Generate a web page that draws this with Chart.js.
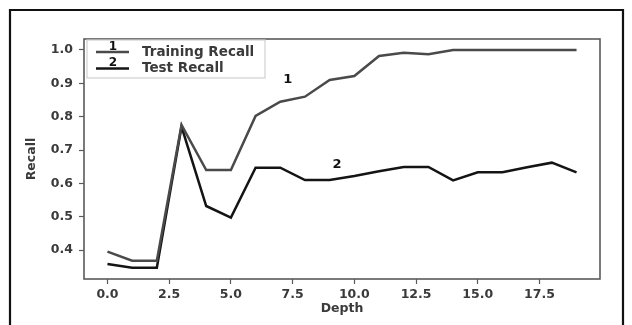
<!DOCTYPE html>
<html>
<head>
<meta charset="utf-8">
<script src="https://cdn.jsdelivr.net/npm/chart.js@4/dist/chart.umd.min.js"></script>
<style>
  html, body { margin: 0; padding: 0; background: #fff; }
  #wrap { width: 632px; height: 325px; }
  canvas { filter: blur(0.45px); }
</style>
</head>
<body>
<div id="wrap"><canvas id="c" width="632" height="325"></canvas></div>
<script>
// Recall against tree depth
const depths = [0, 1, 2, 3, 4, 5, 6, 7, 8, 9, 10, 11, 12, 13, 14, 15, 16, 17, 18, 19];
const trainingRecall = [0.395, 0.368, 0.368, 0.775, 0.640, 0.640, 0.802, 0.845, 0.860, 0.910, 0.922, 0.982, 0.992, 0.987, 1.0, 1.0, 1.0, 1.0, 1.0, 1.0];
const testRecall = [0.358, 0.347, 0.347, 0.770, 0.532, 0.497, 0.647, 0.647, 0.610, 0.610, 0.622, 0.636, 0.649, 0.649, 0.609, 0.633, 0.633, 0.648, 0.662, 0.633];
const seriesNames = ['Training Recall', 'Test Recall'];
const seriesMarks = ['1', '2'];
const xTickValues = [0, 2.5, 5, 7.5, 10, 12.5, 15, 17.5];
const yTickValues = [0.4, 0.5, 0.6, 0.7, 0.8, 0.9, 1.0];

const lineColors = ['#4a4a4a', '#141414'];
const textColor = '#3a3a3a';
const fontFamily = '"DejaVu Sans", sans-serif';

const toPoints = vals => depths.map((d, i) => ({ x: d, y: vals[i] }));

// plot frame, outer border, curve numbers and legend
const decorations = {
  id: 'decorations',
  afterDraw(chart) {
    const { ctx, chartArea: a, scales } = chart;
    ctx.save();
    // axes box
    ctx.strokeStyle = '#5a5a5a';
    ctx.lineWidth = 1.6;
    ctx.strokeRect(a.left, a.top, a.right - a.left, a.bottom - a.top);

    // outer frame (open at the bottom)
    ctx.strokeStyle = '#111';
    ctx.lineWidth = 2.2;
    ctx.beginPath();
    ctx.moveTo(10, 325);
    ctx.lineTo(10, 10);
    ctx.lineTo(623, 10);
    ctx.lineTo(623, 325);
    ctx.stroke();

    // numbers beside the curves
    ctx.fillStyle = '#111';
    ctx.font = 'bold 13px ' + fontFamily;
    ctx.textAlign = 'center';
    ctx.textBaseline = 'middle';
    ctx.fillText(seriesMarks[0], scales.x.getPixelForValue(7.3), scales.y.getPixelForValue(0.912));
    ctx.fillText(seriesMarks[1], scales.x.getPixelForValue(9.3), scales.y.getPixelForValue(0.657));

    // legend
    const bx = a.left + 3, by = a.top + 1, bw = 178, bh = 38;
    ctx.fillStyle = 'rgba(255,255,255,0.85)';
    ctx.fillRect(bx, by, bw, bh);
    ctx.strokeStyle = '#d0d0d0';
    ctx.lineWidth = 1.2;
    ctx.strokeRect(bx, by, bw, bh);
    const rows = [by + 12, by + 28.5];
    seriesNames.forEach((name, i) => {
      const y = rows[i];
      ctx.strokeStyle = lineColors[i];
      ctx.lineWidth = 2.4;
      ctx.beginPath();
      ctx.moveTo(bx + 9, y);
      ctx.lineTo(bx + 42, y);
      ctx.stroke();
      ctx.fillStyle = '#111';
      ctx.font = 'bold 12px ' + fontFamily;
      ctx.textAlign = 'center';
      ctx.textBaseline = 'alphabetic';
      ctx.fillText(seriesMarks[i], bx + 26, y - 2.5);
      ctx.fillStyle = textColor;
      ctx.textAlign = 'left';
      ctx.textBaseline = 'middle';
      ctx.font = 'bold 13.5px ' + fontFamily;
      ctx.fillText(name, bx + 55, y);
    });
    ctx.restore();
  }
};

new Chart(document.getElementById('c'), {
  type: 'line',
  data: {
    datasets: [
      { label: seriesNames[0], data: toPoints(trainingRecall), borderColor: lineColors[0], borderWidth: 2.5, pointRadius: 0, tension: 0, fill: false },
      { label: seriesNames[1], data: toPoints(testRecall), borderColor: lineColors[1], borderWidth: 2.5, pointRadius: 0, tension: 0, fill: false }
    ]
  },
  options: {
    responsive: false,
    animation: false,
    devicePixelRatio: 1,
    layout: { padding: { left: 0, right: 32, top: 39, bottom: 0 } },
    plugins: { legend: { display: false }, tooltip: { enabled: false } },
    scales: {
      x: {
        type: 'linear',
        min: -0.95,
        max: 19.95,
        afterBuildTicks: s => { s.ticks = xTickValues.map(v => ({ value: v })); },
        afterFit: s => { s.height = 46; },
        grid: { drawOnChartArea: false, drawTicks: true, tickLength: 5, color: '#5a5a5a', tickWidth: 1.2 },
        border: { display: false },
        ticks: {
          color: textColor, padding: 3,
          font: { family: fontFamily, size: 12.5, weight: 'bold' },
          callback: v => Number(v).toFixed(1)
        },
        title: {
          display: true, text: 'Depth', color: textColor,
          font: { family: fontFamily, size: 12.5, weight: 'bold' },
          padding: { top: 0, bottom: 9 }
        }
      },
      y: {
        min: 0.313,
        max: 1.033,
        afterBuildTicks: s => { s.ticks = yTickValues.map(v => ({ value: v })); },
        afterFit: s => { s.width = 84; },
        grid: { drawOnChartArea: false, drawTicks: true, tickLength: 5, color: '#5a5a5a', tickWidth: 1.2 },
        border: { display: false },
        ticks: {
          color: textColor, padding: 6,
          font: { family: fontFamily, size: 12.5, weight: 'bold' },
          callback: v => Number(v).toFixed(1)
        },
        title: {
          display: true, text: 'Recall', color: textColor,
          font: { family: fontFamily, size: 12.5, weight: 'bold' },
          padding: { top: 24, bottom: 0 }
        }
      }
    }
  },
  plugins: [decorations]
});
</script>
</body>
</html>
